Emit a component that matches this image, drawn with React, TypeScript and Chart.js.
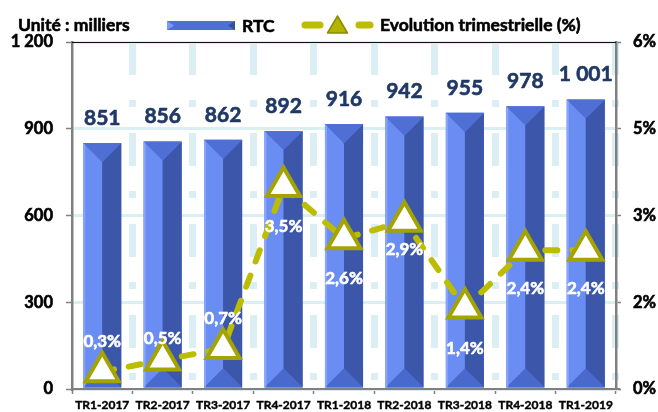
import React, { useEffect, useRef } from "react";
import { Chart, registerables } from "chart.js";

Chart.register(...registerables);

// ---- data ----
const categories = [
  "TR1-2017", "TR2-2017", "TR3-2017", "TR4-2017", "TR1-2018",
  "TR2-2018", "TR3-2018", "TR4-2018", "TR1-2019",
];
const rtcValues = [851, 856, 862, 892, 916, 942, 955, 978, 1001];
const evolutionValues = [0.3, 0.5, 0.7, 3.5, 2.6, 2.9, 1.4, 2.4, 2.4];
const leftAxisMax = 1200;
const leftAxisStep = 300;
const rightAxisMax = 6;
const rightAxisStep = 1.5;
const unitLabel = "Unité : milliers";
const barSeriesName = "RTC";
const lineSeriesName = "Evolution trimestrielle (%)";

// label placement (pixels relative to each point, above < 0, below > 0)
const pctLabelOffsets = [-30, -22, -30, 40, 40, 28, 40, 38, 38];

const FONT = "Lato, 'Open Sans', 'DejaVu Sans', sans-serif";
const OLIVE = "#bcbc00";
const OLIVE_DARK = "#a4a400";
const GRID_BLUE = "#daeef3";
const AXIS_GRAY = "#808080";
const NAVY = "#1f3864";

function fmtThousands(v: number): string {
  return String(Math.round(v)).replace(/\B(?=(\d{3})+(?!\d))/g, " ");
}
function fmtPct(v: number): string {
  return v.toFixed(1).replace(".", ",") + "%";
}

function poly(ctx: CanvasRenderingContext2D, pts: number[][], color: string) {
  ctx.beginPath();
  ctx.moveTo(pts[0][0], pts[0][1]);
  for (let i = 1; i < pts.length; i++) ctx.lineTo(pts[i][0], pts[i][1]);
  ctx.closePath();
  ctx.fillStyle = color;
  ctx.fill();
}

function boldText(ctx: CanvasRenderingContext2D, text: string, x: number, y: number, color: string) {
  ctx.fillStyle = color;
  ctx.strokeStyle = color;
  ctx.lineWidth = 0.6;
  ctx.lineJoin = "round";
  ctx.strokeText(text, x, y);
  ctx.fillText(text, x, y);
}

const facetPlugin = {
  id: "facetPlugin",
  afterDatasetDraw(chart: any, args: any) {
    if (args.index !== 0) return;
    const ctx: CanvasRenderingContext2D = chart.ctx;
    const meta = chart.getDatasetMeta(0);
    ctx.save();
    meta.data.forEach((bar: any) => {
      const p = bar.getProps(["x", "y", "base", "width"], true);
      const x0 = p.x - p.width / 2;
      const x1 = p.x + p.width / 2;
      const h = p.width / 2;
      const top = p.y;
      const bot = p.base;
      poly(ctx, [[x0, top], [p.x, top + h], [p.x, bot - h], [x0, bot]], "#6a8df3");
      poly(ctx, [[x1, top], [p.x, top + h], [p.x, bot - h], [x1, bot]], "#3c57aa");
      poly(ctx, [[x0, top], [x1, top], [p.x, top + h]], "#4f6fd4");
      poly(ctx, [[x0, bot], [x1, bot], [p.x, bot - h]], "#4a69cc");
      ctx.fillStyle = "rgba(160,185,255,0.55)";
      ctx.fillRect(x0, top + 1, 2, bot - top - 1);
    });
    ctx.restore();
  },
  afterDatasetsDraw(chart: any) {
    const ctx: CanvasRenderingContext2D = chart.ctx;
    const area = chart.chartArea;
    ctx.save();
    // top frame line
    ctx.strokeStyle = "#111";
    ctx.lineWidth = 1.2;
    ctx.beginPath();
    ctx.moveTo(area.left, area.top + 0.5);
    ctx.lineTo(area.right, area.top + 0.5);
    ctx.stroke();

    // bar labels
    ctx.font = `bold 21px ${FONT}`;
    ctx.textAlign = "center";
    ctx.textBaseline = "middle";
    chart.getDatasetMeta(0).data.forEach((bar: any, i: number) => {
      boldText(ctx, fmtThousands(rtcValues[i]), bar.x, bar.y - 25, NAVY);
    });

    // line labels
    ctx.font = `bold 17px ${FONT}`;
    chart.getDatasetMeta(1).data.forEach((pt: any, i: number) => {
      boldText(ctx, fmtPct(evolutionValues[i]), pt.x, pt.y + pctLabelOffsets[i], "#ffffff");
    });

    // legend
    const ly = 25;
    ctx.textAlign = "left";
    ctx.font = `bold 17.5px ${FONT}`;
    boldText(ctx, unitLabel, 18, ly, "#000");

    // RTC icon
    const bx0 = 167, bx1 = 235, by0 = 21, by1 = 30;
    poly(ctx, [[bx0, by0], [bx1, by0], [bx1, by1], [bx0, by1]], "#4f6fd4");
    poly(ctx, [[bx0, by0], [bx0 + 7, (by0 + by1) / 2], [bx0, by1]], "#7b9bf7");
    poly(ctx, [[bx1, by0], [bx1 - 7, (by0 + by1) / 2], [bx1, by1]], "#34509f");
    boldText(ctx, barSeriesName, 242, ly + 1, "#000");

    // line icon
    ctx.strokeStyle = OLIVE;
    ctx.lineWidth = 7;
    ctx.lineCap = "round";
    ctx.beginPath();
    ctx.moveTo(305, ly);
    ctx.lineTo(320, ly);
    ctx.moveTo(359, ly);
    ctx.lineTo(370, ly);
    ctx.stroke();
    ctx.lineCap = "butt";
    ctx.beginPath();
    ctx.moveTo(337.5, 16);
    ctx.lineTo(347.5, 33);
    ctx.lineTo(327.5, 33);
    ctx.closePath();
    ctx.fillStyle = "#b3b300";
    ctx.fill();
    ctx.strokeStyle = "#8c8c00";
    ctx.lineWidth = 1.5;
    ctx.stroke();
    boldText(ctx, lineSeriesName, 380, ly, "#000");
    ctx.restore();
  },
};

export default function App() {
  const canvasRef = useRef<HTMLCanvasElement | null>(null);

  useEffect(() => {
    document.body.style.margin = "0";
    const canvas = canvasRef.current;
    if (!canvas) return;
    const chart = new Chart(canvas, {
      type: "bar",
      data: {
        labels: categories,
        datasets: [
          {
            type: "bar",
            label: barSeriesName,
            data: rtcValues,
            yAxisID: "y",
            backgroundColor: "#5577dd",
            borderWidth: 0,
            barPercentage: 0.63,
            categoryPercentage: 1,
            order: 2,
          } as any,
          {
            type: "line",
            label: lineSeriesName,
            data: evolutionValues,
            yAxisID: "y1",
            borderColor: OLIVE,
            borderWidth: 6,
            borderDash: [12, 15],
            borderCapStyle: "round",
            tension: 0,
            pointStyle: "triangle",
            pointRadius: 19,
            pointBackgroundColor: "#ffffff",
            pointBorderColor: OLIVE_DARK,
            pointBorderWidth: 4,
            order: 1,
          } as any,
        ],
      },
      options: {
        animation: false,
        responsive: false,
        devicePixelRatio: 1,
        events: [],
        layout: { padding: { top: 42, left: 0, right: 0, bottom: 0 } },
        plugins: {
          legend: { display: false },
          tooltip: { enabled: false },
          title: { display: false },
        },
        scales: {
          x: {
            afterFit: (s: any) => { s.height = 21; },
            grid: {
              offset: true,
              color: (c: any) =>
                c.index === 0 || c.index === categories.length ? "rgba(0,0,0,0)" : GRID_BLUE,
              lineWidth: 7,
              tickColor: AXIS_GRAY,
              tickLength: 5,
              tickWidth: 1.5,
            },
            border: { display: true, color: AXIS_GRAY, width: 2, dash: [33, 25, 7, 26] },
            ticks: {
              color: "#000",
              font: { family: FONT, size: 12, weight: "bold" },
              textStrokeColor: "#000",
              textStrokeWidth: 0.4,
              padding: 4,
              maxRotation: 0,
              autoSkip: false,
            },
          },
          y: {
            position: "left",
            min: 0,
            max: leftAxisMax,
            afterFit: (s: any) => { s.width = 72; },
            grid: {
              color: GRID_BLUE,
              lineWidth: 3,
              tickColor: AXIS_GRAY,
              tickLength: 6,
              tickWidth: 1.5,
            },
            border: { display: true, color: AXIS_GRAY, width: 2.5 },
            ticks: {
              stepSize: leftAxisStep,
              color: "#000",
              font: { family: FONT, size: 16.5, weight: "bold" },
              textStrokeColor: "#000",
              textStrokeWidth: 0.6,
              padding: 13,
              callback: (v: any) => fmtThousands(Number(v)),
            },
          },
          y1: {
            position: "right",
            min: 0,
            max: rightAxisMax,
            afterFit: (s: any) => { s.width = 42; },
            grid: {
              drawOnChartArea: false,
              tickColor: AXIS_GRAY,
              tickLength: 5,
              tickWidth: 1.5,
            },
            border: { display: true, color: AXIS_GRAY, width: 2.5 },
            ticks: {
              stepSize: rightAxisStep,
              color: "#000",
              font: { family: FONT, size: 16.5, weight: "bold" },
              textStrokeColor: "#000",
              textStrokeWidth: 0.6,
              padding: 12,
              callback: (v: any) => Math.round(Number(v)) + "%",
            },
          },
        },
      } as any,
      plugins: [facetPlugin],
    });
    return () => chart.destroy();
  }, []);

  return (
    <div style={{ position: "fixed", left: 0, top: 0, width: 658, height: 412, background: "#fff" }}>
      <canvas ref={canvasRef} width={658} height={412} style={{ display: "block" }} />
    </div>
  );
}
